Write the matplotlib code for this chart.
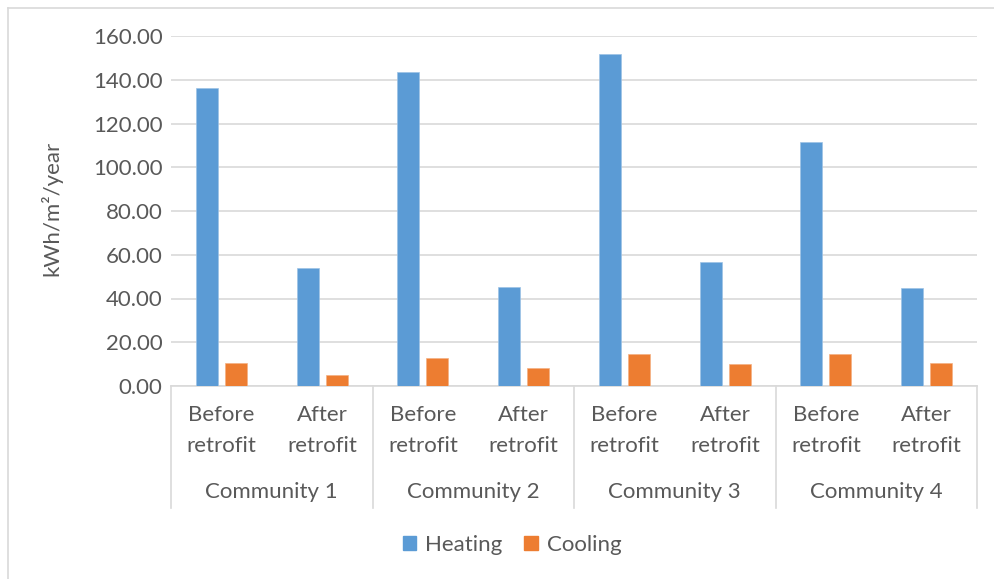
import numpy as np
import matplotlib
matplotlib.use('Agg')
from matplotlib import pyplot as plt
from matplotlib.lines import Line2D
from matplotlib.patches import Patch
import matplotlib.transforms as mtrans

plt.rcParams['font.family'] = ['Lato', 'DejaVu Sans']

communities = ['Community 1', 'Community 2', 'Community 3', 'Community 4']
stages = ['Before\nretrofit', 'After\nretrofit']
heating = [136.1, 53.9, 143.7, 45.4, 151.6, 56.7, 111.4, 44.8]
cooling = [10.7, 4.9, 12.6, 8.2, 14.5, 10.1, 14.5, 10.7]

blue = '#5b9bd5'
orange = '#ed7d31'
grid_c = '#d9d9d9'
text_c = '#595959'
fs = 16

W, H = 994, 579
fig = plt.figure(figsize=(W / 100, H / 100), dpi=100)

# chart border (only left/top visible in the reference)
fig.add_artist(Line2D([7.5 / W, 7.5 / W], [0, 1 - 7.5 / H], color=grid_c, lw=1.2))
fig.add_artist(Line2D([7.5 / W, 1], [1 - 7.5 / H, 1 - 7.5 / H], color=grid_c, lw=1.2))

ax = fig.add_axes([171 / W, (H - 386) / H, 806 / W, 350 / H])
x = np.arange(len(heating))
bw = 0.218
ax.bar(x - 0.143, heating, bw, color=blue, edgecolor='#9dc3e6', lw=0.5, zorder=3)
ax.bar(x + 0.143, cooling, bw, color=orange, edgecolor='#f4b183', lw=0.5, zorder=3)

ax.set_xlim(-0.5, len(heating) - 0.5)
ax.set_ylim(0, 160)
ax.set_yticks(np.arange(0, 161, 20))
ax.set_yticklabels(['%.2f' % v for v in np.arange(0, 161, 20)])
ax.yaxis.grid(True, color=grid_c, lw=1.2, zorder=0)
for s in ['left', 'right', 'top']:
    ax.spines[s].set_visible(False)
ax.spines['bottom'].set_color(grid_c)
ax.spines['bottom'].set_linewidth(1.2)
ax.tick_params(axis='y', length=0, pad=6, labelsize=fs, labelcolor=text_c)
ax.set_xticks([])
fig.text(51 / W, 1 - 208 / H, 'kWh/m²/year', rotation=90, ha='center', va='center',
         fontsize=fs, color=text_c)

# two-level category axis
tr = mtrans.blended_transform_factory(ax.transData, ax.transAxes)
for b in np.arange(-0.5, len(heating), 2):
    ax.add_line(Line2D([b, b], [0, -0.349], transform=tr, color=grid_c,
                       lw=1.2, clip_on=False))
for i in range(len(heating)):
    ax.text(i, -0.128, stages[i % 2], transform=tr, ha='center', va='center',
            fontsize=fs, color=text_c, linespacing=1.68)
for j, name in enumerate(communities):
    ax.text(2 * j + 0.5, -0.303, name, transform=tr, ha='center', va='center',
            fontsize=fs, color=text_c)

handles = [Patch(color=blue, label='Heating'), Patch(color=orange, label='Cooling')]
fig.legend(handles=handles, loc='center', bbox_to_anchor=(512 / W, 1 - 545 / H),
           ncol=2, frameon=False, fontsize=fs, labelcolor=text_c,
           handlelength=0.6, handleheight=0.6, handletextpad=0.4, columnspacing=1.0)

fig.savefig('out.png', dpi=100, facecolor='white')
